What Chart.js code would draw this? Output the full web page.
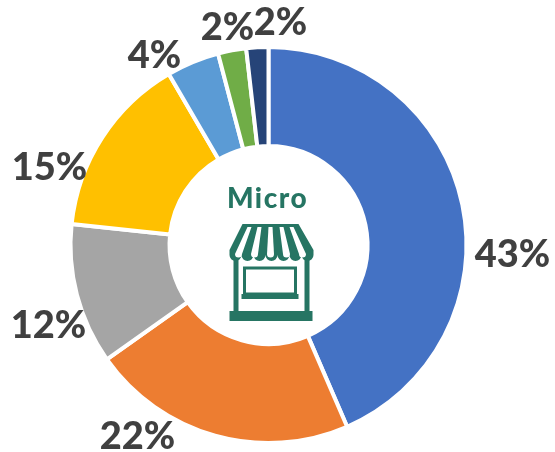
<!DOCTYPE html>
<html><head><meta charset="utf-8">
<style>html,body{margin:0;padding:0;background:#fff}#w{width:555px;height:452px;position:relative}</style>
<script src="https://cdn.jsdelivr.net/npm/chart.js@4"></script>
</head><body><div id="w"><canvas id="c" width="555" height="452"></canvas></div>
<script>
const categories = ["A","B","C","D","E","F","G"];
const shares = [43.5,21.7,11.5,14.9,4.3,2.3,1.8];
const tickLabels = ["43%","22%","12%","15%","4%","2%","2%"];
const colours = ["#4472C4","#ED7D31","#A5A5A5","#FFC000","#5B9BD5","#70AD47","#264478"];
const centerTitle = "Micro";
const labelOffsets = [[244,10],[-131,192],[-220,81],[-219,-77],[-114,-189],[-41,-217],[12,-222]];
const GREEN = "#267563";
const overlay = {
  id:"overlay",
  afterDraw(chart){
    const ctx = chart.ctx, arcs = chart.getDatasetMeta(0).data;
    const cx = arcs[0].x, cy = arcs[0].y;
    ctx.save();
    ctx.textAlign="center"; ctx.textBaseline="middle";
    ctx.fillStyle="#404040"; ctx.font='900 38px Lato';
    tickLabels.forEach((t,i)=>{
      const o=labelOffsets[i];
      ctx.fillText(t,cx+o[0],cy+o[1]);
    });
    ctx.fillStyle=GREEN; ctx.font='900 28px Lato'; ctx.letterSpacing="1.5px";
    ctx.fillText(centerTitle,cx-1,cy-46);
    ctx.letterSpacing="0px";
    ctx.translate(cx,cy-1);
    ctx.fillStyle=GREEN;
    ctx.fillRect(-39,67,83,10);
    ctx.fillRect(-35,16,5,52); ctx.fillRect(36,16,5,52);
    ctx.strokeStyle=GREEN; ctx.lineWidth=3; ctx.strokeRect(-24,24,51,26);
    ctx.fillRect(-27,50,57,5);
    ctx.beginPath();
    ctx.moveTo(-26,-20);ctx.lineTo(30,-20);ctx.lineTo(45,6);ctx.lineTo(45,11);
    for(let k=0;k<7;k++){ ctx.arc(39-k*12,11,6,0,Math.PI); }
    ctx.lineTo(-39,6);ctx.closePath();ctx.fill();
    ctx.fillStyle="#fff";
    const topX=[-19,-9,2,13,23], botX=[-30,-14,2,18,34];
    topX.forEach((t,i)=>{
      const b=botX[i];
      ctx.beginPath();ctx.moveTo(t-2,-17);ctx.lineTo(t+2,-17);
      ctx.lineTo(b+3.5,10);
      ctx.arc(b,10,3.5,0,Math.PI);
      ctx.closePath();ctx.fill();
    });
    ctx.restore();
  }
};
new Chart(document.getElementById("c"),{
  type:"doughnut",
  data:{labels:categories,datasets:[{data:shares,backgroundColor:colours,borderColor:"#fff",borderWidth:4}]},
  options:{
    responsive:false,animation:false,cutout:"50%",
    layout:{padding:{left:68,right:86,top:45,bottom:7}},
    plugins:{legend:{display:false},tooltip:{enabled:false}}
  },
  plugins:[overlay]
});
</script></body></html>
